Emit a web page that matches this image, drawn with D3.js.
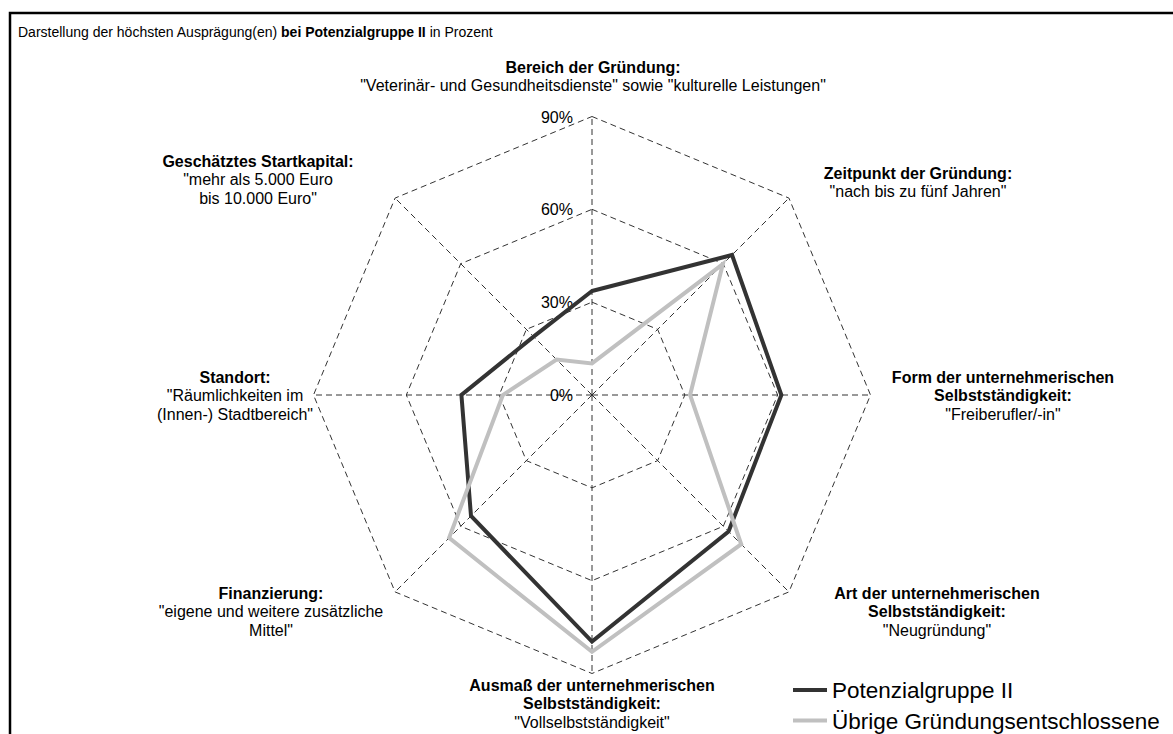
<!DOCTYPE html>
<html>
<head>
<meta charset="utf-8">
<script src="https://cdn.jsdelivr.net/npm/d3@7"></script>
<style>
  html, body { margin: 0; padding: 0; background: #fff; overflow: hidden; }
  svg { display: block; font-family: Arial, "Liberation Sans", sans-serif; }
</style>
</head>
<body>
<div id="chart"></div>
<script>
// ── Data ──────────────────────────────────────────────────────────────────────
const axisTitles = [
  'Bereich der Gründung:',
  'Zeitpunkt der Gründung:',
  'Form der unternehmerischen|Selbstständigkeit:',
  'Art der unternehmerischen|Selbstständigkeit:',
  'Ausmaß der unternehmerischen|Selbstständigkeit:',
  'Finanzierung:',
  'Standort:',
  'Geschätztes Startkapital:',
];
const axisValues = [
  '"Veterinär- und Gesundheitsdienste" sowie "kulturelle Leistungen"',
  '"nach bis zu fünf Jahren"',
  '"Freiberufler/-in"',
  '"Neugründung"',
  '"Vollselbstständigkeit"',
  '"eigene und weitere zusätzliche|Mittel"',
  '"Räumlichkeiten im|(Innen-) Stadtbereich"',
  '"mehr als 5.000 Euro|bis 10.000 Euro"',
];
const seriesNames = ['Potenzialgruppe II', 'Übrige Gründungsentschlossene'];
const potenzial   = [33.6, 64.0, 61.2, 62.4, 79.7, 55.3, 42.2, 26.7];
const uebrige     = [10.2, 59.8, 31.7, 68.2, 83.0, 65.3, 28.8, 16.2];
const ticks       = [0, 30, 60, 90];

// ── Layout ────────────────────────────────────────────────────────────────────
const W = 1173, H = 734;
const cx = 592, cy = 395;
const R = 278.5;
const colors = ['#333333', '#c0c0c0'];
// label block: centre x offset, first baseline y offset (from chart centre)
const labelPos = [[1, -322], [326, -216], [411, -12], [345, 204], [0, 296], [-321, 204], [-357, -12], [-334, -228]];
const lineH = 18.3;

const svg = d3.select('#chart').append('svg').attr('width', W).attr('height', H);

// frame (only top and left edges fall inside the picture)
svg.append('path').attr('d', `M10,${H + 10}V13H${W + 10}`)
  .attr('fill', 'none').attr('stroke', '#000').attr('stroke-width', 2.5);

svg.append('text').attr('x', 18).attr('y', 37).style('font-size', '14px').attr('fill', '#000')
  .call(t => {
    t.append('tspan').text('Darstellung der höchsten Ausprägung(en) ');
    t.append('tspan').style('font-weight', 'bold').text('bei Potenzialgruppe II');
    t.append('tspan').text(' in Prozent');
  });

const r = d3.scaleLinear().domain([0, 90]).range([0, R]);
const angle = d3.scaleLinear().domain([0, axisTitles.length]).range([0, 2 * Math.PI]);

const g = svg.append('g').attr('transform', `translate(${cx},${cy})`);

// grid rings
const ring = d3.lineRadial().angle((d, i) => angle(i)).radius(d => r(d)).curve(d3.curveLinearClosed);
ticks.filter(t => t > 0).forEach(t => {
  g.append('path').attr('d', ring(axisTitles.map(() => t)))
    .attr('fill', 'none').attr('stroke', '#333').attr('stroke-width', 1).attr('stroke-dasharray', '6,4');
});

// spokes
axisTitles.forEach((_, i) => {
  const a = angle(i);
  g.append('line').attr('x1', 0).attr('y1', 0)
    .attr('x2', r(90) * Math.sin(a)).attr('y2', -r(90) * Math.cos(a))
    .attr('stroke', '#333').attr('stroke-width', 1).attr('stroke-dasharray', '6,4');
});

// tick labels
g.selectAll('.tick').data(ticks).enter().append('text')
  .attr('x', -19).attr('y', d => -r(d) + 6)
  .attr('text-anchor', 'end').style('font-size', '16px').attr('fill', '#000')
  .text(d => d + '%');

// series
const line = d3.lineRadial().angle((d, i) => angle(i)).radius(d => r(d)).curve(d3.curveLinearClosed);
[potenzial, uebrige].forEach((s, k) => {
  g.append('path').attr('d', line(s))
    .attr('fill', 'none').attr('stroke', colors[k]).attr('stroke-width', 4)
    .attr('stroke-linejoin', 'miter');
});

// axis labels
axisTitles.forEach((title, i) => {
  const [dx, dy] = labelPos[i];
  const lines = title.split('|').map(t => ({ t, bold: true }))
    .concat(axisValues[i].split('|').map(t => ({ t, bold: false })));
  const txt = g.append('text').attr('text-anchor', 'middle').style('font-size', '16px').attr('fill', '#000');
  lines.forEach((l, j) => {
    txt.append('tspan').attr('x', dx).attr('y', dy + j * lineH)
      .style('font-weight', l.bold ? 'bold' : 'normal').text(l.t);
  });
});

// legend
const leg = svg.append('g').attr('transform', 'translate(793,690)');
seriesNames.forEach((n, k) => {
  const row = leg.append('g').attr('transform', `translate(0,${k * 30.5})`);
  row.append('line').attr('x1', 0).attr('x2', 34).attr('y1', 0).attr('y2', 0)
    .attr('stroke', colors[k]).attr('stroke-width', 4);
  row.append('text').attr('x', 39).attr('y', 8).style('font-size', '22.5px').attr('fill', '#000').text(n);
});
</script>
</body>
</html>
